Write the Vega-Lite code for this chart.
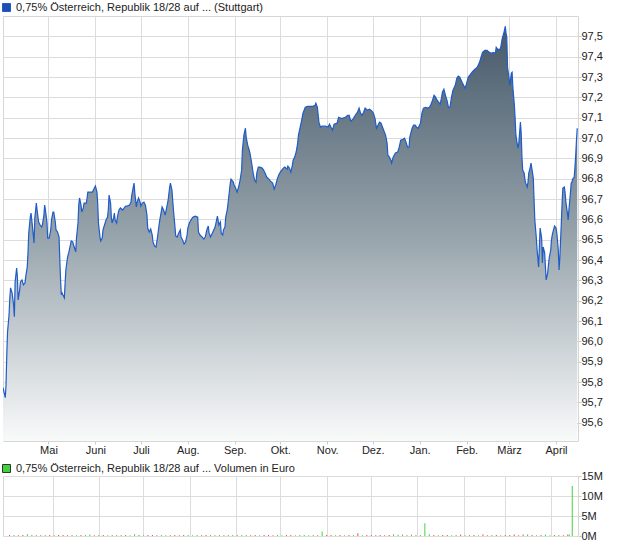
{
  "$schema": "https://vega.github.io/schema/vega-lite/v6.json",
  "padding": {"left": 1, "top": 2, "right": 0, "bottom": 0},
  "background": "white",
  "datasets": {
    "price": [
      {"d":"2025-04-01","p":95.772},{"d":"2025-04-02T12:00:00Z","p":95.723},{"d":"2025-04-03","p":95.787},{"d":"2025-04-03T12:00:00Z","p":95.934},
      {"d":"2025-04-04","p":96.047},{"d":"2025-04-05","p":96.130},{"d":"2025-04-05T12:00:00Z","p":96.214},{"d":"2025-04-06","p":96.263},
      {"d":"2025-04-07","p":96.238},{"d":"2025-04-08","p":96.179},{"d":"2025-04-08T12:00:00Z","p":96.121},{"d":"2025-04-09","p":96.292},
      {"d":"2025-04-10","p":96.361},{"d":"2025-04-10T12:00:00Z","p":96.317},{"d":"2025-04-11","p":96.204},{"d":"2025-04-12","p":96.253},
      {"d":"2025-04-12T12:00:00Z","p":96.292},{"d":"2025-04-13T12:00:00Z","p":96.302},{"d":"2025-04-14T12:00:00Z","p":96.278},{"d":"2025-04-15T12:00:00Z","p":96.287},
      {"d":"2025-04-16","p":96.317},{"d":"2025-04-17","p":96.366},{"d":"2025-04-17T12:00:00Z","p":96.435},{"d":"2025-04-18","p":96.533},
      {"d":"2025-04-19","p":96.611},{"d":"2025-04-19T12:00:00Z","p":96.631},{"d":"2025-04-20","p":96.597},{"d":"2025-04-21","p":96.523},
      {"d":"2025-04-21T12:00:00Z","p":96.484},{"d":"2025-04-22","p":96.607},{"d":"2025-04-23","p":96.680},{"d":"2025-04-23T12:00:00Z","p":96.646},
      {"d":"2025-04-24T12:00:00Z","p":96.587},{"d":"2025-04-25T12:00:00Z","p":96.572},{"d":"2025-04-26T12:00:00Z","p":96.562},{"d":"2025-04-27","p":96.572},
      {"d":"2025-04-28","p":96.621},{"d":"2025-04-28T12:00:00Z","p":96.670},{"d":"2025-04-29","p":96.646},{"d":"2025-04-30","p":96.587},
      {"d":"2025-04-30T12:00:00Z","p":96.508},{"d":"2025-05-01T12:00:00Z","p":96.508},{"d":"2025-05-02T12:00:00Z","p":96.548},{"d":"2025-05-03","p":96.597},
      {"d":"2025-05-04","p":96.636},{"d":"2025-05-04T12:00:00Z","p":96.636},{"d":"2025-05-05T12:00:00Z","p":96.587},{"d":"2025-05-06","p":96.548},
      {"d":"2025-05-07","p":96.538},{"d":"2025-05-08","p":96.513},{"d":"2025-05-08T12:00:00Z","p":96.400},{"d":"2025-05-09","p":96.302},
      {"d":"2025-05-09T12:00:00Z","p":96.229},{"d":"2025-05-10","p":96.238},{"d":"2025-05-10T12:00:00Z","p":96.229},{"d":"2025-05-11T12:00:00Z","p":96.214},
      {"d":"2025-05-12","p":96.287},{"d":"2025-05-12T12:00:00Z","p":96.351},{"d":"2025-05-13T12:00:00Z","p":96.410},{"d":"2025-05-14T12:00:00Z","p":96.440},
      {"d":"2025-05-15T12:00:00Z","p":96.474},{"d":"2025-05-16","p":96.494},{"d":"2025-05-17","p":96.489},{"d":"2025-05-18","p":96.464},
      {"d":"2025-05-19","p":96.440},{"d":"2025-05-19T12:00:00Z","p":96.508},{"d":"2025-05-20T12:00:00Z","p":96.582},{"d":"2025-05-21","p":96.670},
      {"d":"2025-05-21T12:00:00Z","p":96.705},{"d":"2025-05-22T12:00:00Z","p":96.670},{"d":"2025-05-23","p":96.636},{"d":"2025-05-24","p":96.656},
      {"d":"2025-05-24T12:00:00Z","p":96.680},{"d":"2025-05-26","p":96.680},{"d":"2025-05-26T12:00:00Z","p":96.705},{"d":"2025-05-27","p":96.734},
      {"d":"2025-05-28T12:00:00Z","p":96.734},{"d":"2025-05-30","p":96.734},{"d":"2025-05-31","p":96.749},{"d":"2025-06-01","p":96.764},
      {"d":"2025-06-02","p":96.734},{"d":"2025-06-02T12:00:00Z","p":96.680},{"d":"2025-06-03","p":96.582},{"d":"2025-06-04","p":96.513},
      {"d":"2025-06-04T12:00:00Z","p":96.494},{"d":"2025-06-05T12:00:00Z","p":96.508},{"d":"2025-06-06","p":96.548},{"d":"2025-06-07","p":96.572},
      {"d":"2025-06-08","p":96.597},{"d":"2025-06-09","p":96.611},{"d":"2025-06-09T12:00:00Z","p":96.646},{"d":"2025-06-10","p":96.719},
      {"d":"2025-06-11","p":96.680},{"d":"2025-06-11T12:00:00Z","p":96.611},{"d":"2025-06-12","p":96.582},{"d":"2025-06-13","p":96.607},
      {"d":"2025-06-13T12:00:00Z","p":96.631},{"d":"2025-06-14","p":96.597},{"d":"2025-06-15","p":96.582},{"d":"2025-06-15T12:00:00Z","p":96.611},
      {"d":"2025-06-16T12:00:00Z","p":96.646},{"d":"2025-06-17T12:00:00Z","p":96.656},{"d":"2025-06-19","p":96.646},{"d":"2025-06-20","p":96.656},
      {"d":"2025-06-21","p":96.665},{"d":"2025-06-22","p":96.665},{"d":"2025-06-23T12:00:00Z","p":96.670},{"d":"2025-06-24T12:00:00Z","p":96.685},
      {"d":"2025-06-25","p":96.719},{"d":"2025-06-26","p":96.759},{"d":"2025-06-26T12:00:00Z","p":96.778},{"d":"2025-06-27","p":96.729},
      {"d":"2025-06-28","p":96.661},{"d":"2025-06-28T12:00:00Z","p":96.685},{"d":"2025-06-29T12:00:00Z","p":96.705},{"d":"2025-06-30T12:00:00Z","p":96.685},
      {"d":"2025-07-01","p":96.665},{"d":"2025-07-02","p":96.680},{"d":"2025-07-03","p":96.685},{"d":"2025-07-04","p":96.670},
      {"d":"2025-07-05","p":96.621},{"d":"2025-07-05T12:00:00Z","p":96.557},{"d":"2025-07-06T12:00:00Z","p":96.538},{"d":"2025-07-07T12:00:00Z","p":96.553},
      {"d":"2025-07-08T12:00:00Z","p":96.523},{"d":"2025-07-09","p":96.489},{"d":"2025-07-10","p":96.469},{"d":"2025-07-11","p":96.464},
      {"d":"2025-07-12","p":96.513},{"d":"2025-07-13","p":96.572},{"d":"2025-07-13T12:00:00Z","p":96.597},{"d":"2025-07-15","p":96.661},
      {"d":"2025-07-16","p":96.646},{"d":"2025-07-17","p":96.621},{"d":"2025-07-18","p":96.656},{"d":"2025-07-19","p":96.695},
      {"d":"2025-07-20","p":96.759},{"d":"2025-07-20T12:00:00Z","p":96.778},{"d":"2025-07-21T12:00:00Z","p":96.744},{"d":"2025-07-22T12:00:00Z","p":96.646},
      {"d":"2025-07-23T12:00:00Z","p":96.562},{"d":"2025-07-24","p":96.518},{"d":"2025-07-25","p":96.513},{"d":"2025-07-26","p":96.533},
      {"d":"2025-07-27","p":96.548},{"d":"2025-07-27T12:00:00Z","p":96.513},{"d":"2025-07-28T12:00:00Z","p":96.499},{"d":"2025-07-29T12:00:00Z","p":96.479},
      {"d":"2025-07-30T12:00:00Z","p":96.489},{"d":"2025-07-31T12:00:00Z","p":96.523},{"d":"2025-08-01","p":96.557},{"d":"2025-08-02","p":96.582},
      {"d":"2025-08-03T12:00:00Z","p":96.602},{"d":"2025-08-04T12:00:00Z","p":96.611},{"d":"2025-08-06","p":96.616},{"d":"2025-08-07T12:00:00Z","p":96.611},
      {"d":"2025-08-08","p":96.538},{"d":"2025-08-09","p":96.523},{"d":"2025-08-10T12:00:00Z","p":96.513},{"d":"2025-08-11T12:00:00Z","p":96.503},
      {"d":"2025-08-12T12:00:00Z","p":96.513},{"d":"2025-08-13T12:00:00Z","p":96.548},{"d":"2025-08-14T12:00:00Z","p":96.567},{"d":"2025-08-15","p":96.533},
      {"d":"2025-08-16","p":96.513},{"d":"2025-08-17T12:00:00Z","p":96.538},{"d":"2025-08-19","p":96.562},{"d":"2025-08-20","p":96.597},
      {"d":"2025-08-20T12:00:00Z","p":96.616},{"d":"2025-08-21T12:00:00Z","p":96.572},{"d":"2025-08-22T12:00:00Z","p":96.587},{"d":"2025-08-23","p":96.533},
      {"d":"2025-08-24","p":96.523},{"d":"2025-08-24T12:00:00Z","p":96.548},{"d":"2025-08-25T12:00:00Z","p":96.562},{"d":"2025-08-26","p":96.611},
      {"d":"2025-08-27","p":96.646},{"d":"2025-08-28","p":96.710},{"d":"2025-08-29","p":96.778},{"d":"2025-08-29T12:00:00Z","p":96.798},
      {"d":"2025-08-31","p":96.783},{"d":"2025-08-31T12:00:00Z","p":96.769},{"d":"2025-09-01T12:00:00Z","p":96.754},{"d":"2025-09-02T12:00:00Z","p":96.734},
      {"d":"2025-09-03T12:00:00Z","p":96.759},{"d":"2025-09-04T12:00:00Z","p":96.793},{"d":"2025-09-05T12:00:00Z","p":96.842},{"d":"2025-09-06","p":96.940},
      {"d":"2025-09-07","p":97.014},{"d":"2025-09-08","p":97.048},{"d":"2025-09-08T12:00:00Z","p":97.004},{"d":"2025-09-09T12:00:00Z","p":96.965},
      {"d":"2025-09-10T12:00:00Z","p":96.940},{"d":"2025-09-11","p":96.926},{"d":"2025-09-12","p":96.881},{"d":"2025-09-13","p":96.832},
      {"d":"2025-09-14","p":96.793},{"d":"2025-09-15","p":96.783},{"d":"2025-09-15T12:00:00Z","p":96.827},{"d":"2025-09-16T12:00:00Z","p":96.857},
      {"d":"2025-09-17T12:00:00Z","p":96.857},{"d":"2025-09-19","p":96.852},{"d":"2025-09-20","p":96.842},{"d":"2025-09-21","p":96.827},
      {"d":"2025-09-22","p":96.808},{"d":"2025-09-23T12:00:00Z","p":96.798},{"d":"2025-09-24T12:00:00Z","p":96.788},{"d":"2025-09-26","p":96.778},
      {"d":"2025-09-27","p":96.749},{"d":"2025-09-28","p":96.769},{"d":"2025-09-29","p":96.798},{"d":"2025-09-30","p":96.818},
      {"d":"2025-10-01","p":96.832},{"d":"2025-10-02","p":96.842},{"d":"2025-10-03","p":96.852},{"d":"2025-10-04","p":96.857},
      {"d":"2025-10-05T12:00:00Z","p":96.847},{"d":"2025-10-06","p":96.862},{"d":"2025-10-07","p":96.852},{"d":"2025-10-08","p":96.832},
      {"d":"2025-10-09","p":96.867},{"d":"2025-10-09T12:00:00Z","p":96.891},{"d":"2025-10-10T12:00:00Z","p":96.906},{"d":"2025-10-11T12:00:00Z","p":96.931},
      {"d":"2025-10-12T12:00:00Z","p":96.975},{"d":"2025-10-13","p":97.014},{"d":"2025-10-14","p":97.048},{"d":"2025-10-15","p":97.083},
      {"d":"2025-10-16","p":97.122},{"d":"2025-10-17T12:00:00Z","p":97.151},{"d":"2025-10-19","p":97.156},{"d":"2025-10-20T12:00:00Z","p":97.156},
      {"d":"2025-10-22T12:00:00Z","p":97.156},{"d":"2025-10-24","p":97.161},{"d":"2025-10-24T12:00:00Z","p":97.171},{"d":"2025-10-25T12:00:00Z","p":97.151},
      {"d":"2025-10-26T12:00:00Z","p":97.078},{"d":"2025-10-27T12:00:00Z","p":97.053},{"d":"2025-10-28T12:00:00Z","p":97.058},{"d":"2025-10-30","p":97.058},
      {"d":"2025-10-31","p":97.058},{"d":"2025-11-01T12:00:00Z","p":97.053},{"d":"2025-11-02T12:00:00Z","p":97.068},{"d":"2025-11-03T12:00:00Z","p":97.053},
      {"d":"2025-11-04T12:00:00Z","p":97.039},{"d":"2025-11-05T12:00:00Z","p":97.068},{"d":"2025-11-07T12:00:00Z","p":97.073},{"d":"2025-11-08T12:00:00Z","p":97.102},
      {"d":"2025-11-10","p":97.097},{"d":"2025-11-11","p":97.097},{"d":"2025-11-13","p":97.102},{"d":"2025-11-14T12:00:00Z","p":97.112},
      {"d":"2025-11-15T12:00:00Z","p":97.112},{"d":"2025-11-16T12:00:00Z","p":97.083},{"d":"2025-11-18","p":97.093},{"d":"2025-11-19T12:00:00Z","p":97.112},
      {"d":"2025-11-21","p":97.127},{"d":"2025-11-22","p":97.147},{"d":"2025-11-23","p":97.122},{"d":"2025-11-24","p":97.112},
      {"d":"2025-11-25","p":97.127},{"d":"2025-11-26","p":97.147},{"d":"2025-11-27T12:00:00Z","p":97.137},{"d":"2025-11-29","p":97.142},
      {"d":"2025-11-30T12:00:00Z","p":97.132},{"d":"2025-12-01T12:00:00Z","p":97.122},{"d":"2025-12-02T12:00:00Z","p":97.097},{"d":"2025-12-03T12:00:00Z","p":97.048},
      {"d":"2025-12-04T12:00:00Z","p":97.063},{"d":"2025-12-05T12:00:00Z","p":97.078},{"d":"2025-12-06T12:00:00Z","p":97.073},{"d":"2025-12-07T12:00:00Z","p":97.053},
      {"d":"2025-12-08T12:00:00Z","p":97.034},{"d":"2025-12-09T12:00:00Z","p":97.014},{"d":"2025-12-10T12:00:00Z","p":96.975},{"d":"2025-12-11","p":96.916},
      {"d":"2025-12-12","p":96.906},{"d":"2025-12-13","p":96.891},{"d":"2025-12-13T12:00:00Z","p":96.877},{"d":"2025-12-14T12:00:00Z","p":96.906},
      {"d":"2025-12-16","p":96.926},{"d":"2025-12-17T12:00:00Z","p":96.931},{"d":"2025-12-18T12:00:00Z","p":96.955},{"d":"2025-12-19T12:00:00Z","p":96.989},
      {"d":"2025-12-21","p":96.994},{"d":"2025-12-22","p":96.999},{"d":"2025-12-23","p":96.980},{"d":"2025-12-24","p":96.955},
      {"d":"2025-12-25","p":96.955},{"d":"2025-12-25T12:00:00Z","p":97.004},{"d":"2025-12-27","p":97.048},{"d":"2025-12-28","p":97.063},
      {"d":"2025-12-29","p":97.063},{"d":"2025-12-30","p":97.053},{"d":"2025-12-31","p":97.048},{"d":"2026-01-01T12:00:00Z","p":97.073},
      {"d":"2026-01-02T12:00:00Z","p":97.122},{"d":"2026-01-03T12:00:00Z","p":97.147},{"d":"2026-01-05","p":97.151},{"d":"2026-01-06","p":97.147},
      {"d":"2026-01-07T12:00:00Z","p":97.151},{"d":"2026-01-08T12:00:00Z","p":97.166},{"d":"2026-01-09T12:00:00Z","p":97.186},{"d":"2026-01-10T12:00:00Z","p":97.210},
      {"d":"2026-01-11T12:00:00Z","p":97.201},{"d":"2026-01-12T12:00:00Z","p":97.186},{"d":"2026-01-13T12:00:00Z","p":97.176},{"d":"2026-01-14T12:00:00Z","p":97.166},
      {"d":"2026-01-15T12:00:00Z","p":97.201},{"d":"2026-01-16","p":97.225},{"d":"2026-01-17","p":97.240},{"d":"2026-01-18","p":97.210},
      {"d":"2026-01-19","p":97.186},{"d":"2026-01-20","p":97.151},{"d":"2026-01-21","p":97.151},{"d":"2026-01-22","p":97.201},
      {"d":"2026-01-23","p":97.235},{"d":"2026-01-24T12:00:00Z","p":97.259},{"d":"2026-01-25T12:00:00Z","p":97.294},{"d":"2026-01-26T12:00:00Z","p":97.304},
      {"d":"2026-01-27T12:00:00Z","p":97.299},{"d":"2026-01-29","p":97.274},{"d":"2026-01-30","p":97.259},{"d":"2026-01-31","p":97.245},
      {"d":"2026-02-01","p":97.269},{"d":"2026-02-02","p":97.299},{"d":"2026-02-03T12:00:00Z","p":97.313},{"d":"2026-02-05","p":97.328},
      {"d":"2026-02-06T12:00:00Z","p":97.338},{"d":"2026-02-08","p":97.348},{"d":"2026-02-09T12:00:00Z","p":97.372},{"d":"2026-02-10T12:00:00Z","p":97.397},
      {"d":"2026-02-11T12:00:00Z","p":97.421},{"d":"2026-02-13","p":97.431},{"d":"2026-02-14T12:00:00Z","p":97.431},{"d":"2026-02-16","p":97.421},
      {"d":"2026-02-17T12:00:00Z","p":97.417},{"d":"2026-02-18T12:00:00Z","p":97.421},{"d":"2026-02-20","p":97.417},{"d":"2026-02-20T12:00:00Z","p":97.446},
      {"d":"2026-02-21T12:00:00Z","p":97.436},{"d":"2026-02-23","p":97.436},{"d":"2026-02-23T12:00:00Z","p":97.446},{"d":"2026-02-24T12:00:00Z","p":97.490},
      {"d":"2026-02-25T12:00:00Z","p":97.515},{"d":"2026-02-26T12:00:00Z","p":97.549},{"d":"2026-02-27","p":97.515},{"d":"2026-02-27T12:00:00Z","p":97.495},
      {"d":"2026-02-28","p":97.348},{"d":"2026-03-01","p":97.294},{"d":"2026-03-01T12:00:00Z","p":97.259},{"d":"2026-03-02T12:00:00Z","p":97.318},
      {"d":"2026-03-03","p":97.323},{"d":"2026-03-03T12:00:00Z","p":97.250},{"d":"2026-03-04T12:00:00Z","p":97.161},{"d":"2026-03-05","p":97.097},
      {"d":"2026-03-05T12:00:00Z","p":97.014},{"d":"2026-03-06T12:00:00Z","p":96.965},{"d":"2026-03-07","p":96.950},{"d":"2026-03-07T12:00:00Z","p":96.980},
      {"d":"2026-03-08T12:00:00Z","p":97.078},{"d":"2026-03-09","p":97.024},{"d":"2026-03-09T12:00:00Z","p":96.906},{"d":"2026-03-10","p":96.842},
      {"d":"2026-03-11","p":96.827},{"d":"2026-03-11T12:00:00Z","p":96.793},{"d":"2026-03-12","p":96.778},{"d":"2026-03-13","p":96.759},
      {"d":"2026-03-13T12:00:00Z","p":96.783},{"d":"2026-03-14","p":96.827},{"d":"2026-03-15","p":96.857},{"d":"2026-03-15T12:00:00Z","p":96.877},
      {"d":"2026-03-16","p":96.852},{"d":"2026-03-17","p":96.803},{"d":"2026-03-17T12:00:00Z","p":96.695},{"d":"2026-03-18","p":96.597},
      {"d":"2026-03-19","p":96.508},{"d":"2026-03-19T12:00:00Z","p":96.449},{"d":"2026-03-20","p":96.410},{"d":"2026-03-20T12:00:00Z","p":96.366},
      {"d":"2026-03-21","p":96.464},{"d":"2026-03-21T12:00:00Z","p":96.557},{"d":"2026-03-22T12:00:00Z","p":96.508},{"d":"2026-03-23","p":96.386},
      {"d":"2026-03-23T12:00:00Z","p":96.464},{"d":"2026-03-24T12:00:00Z","p":96.435},{"d":"2026-03-25","p":96.366},{"d":"2026-03-25T12:00:00Z","p":96.302},
      {"d":"2026-03-26T12:00:00Z","p":96.337},{"d":"2026-03-27","p":96.376},{"d":"2026-03-27T12:00:00Z","p":96.410},{"d":"2026-03-28T12:00:00Z","p":96.449},
      {"d":"2026-03-29","p":96.499},{"d":"2026-03-29T12:00:00Z","p":96.523},{"d":"2026-03-30","p":96.538},{"d":"2026-03-31","p":96.567},
      {"d":"2026-04-01","p":96.557},{"d":"2026-04-01T12:00:00Z","p":96.533},{"d":"2026-04-02T12:00:00Z","p":96.449},{"d":"2026-04-03","p":96.351},
      {"d":"2026-04-03T12:00:00Z","p":96.410},{"d":"2026-04-04T12:00:00Z","p":96.582},{"d":"2026-04-05","p":96.680},{"d":"2026-04-05T12:00:00Z","p":96.754},
      {"d":"2026-04-06T12:00:00Z","p":96.759},{"d":"2026-04-07","p":96.729},{"d":"2026-04-07T12:00:00Z","p":96.685},{"d":"2026-04-08T12:00:00Z","p":96.631},
      {"d":"2026-04-09","p":96.597},{"d":"2026-04-09T12:00:00Z","p":96.646},{"d":"2026-04-10T12:00:00Z","p":96.729},{"d":"2026-04-11","p":96.778},
      {"d":"2026-04-11T12:00:00Z","p":96.783},{"d":"2026-04-12","p":96.798},{"d":"2026-04-13","p":96.808},{"d":"2026-04-13T12:00:00Z","p":96.857},
      {"d":"2026-04-14","p":96.916},{"d":"2026-04-14T12:00:00Z","p":96.989},{"d":"2026-04-15","p":97.048}
    ],
    "volume": [
      {"d":"2025-04-02","v":250000,"c":"down"},{"d":"2025-04-05","v":220000,"c":"up"},{"d":"2025-04-08","v":200000,"c":"down"},{"d":"2025-04-11","v":250000,"c":"down"},
      {"d":"2025-04-14","v":450000,"c":"up"},{"d":"2025-04-17","v":220000,"c":"up"},{"d":"2025-04-20","v":200000,"c":"down"},{"d":"2025-04-23","v":250000,"c":"up"},
      {"d":"2025-04-26","v":200000,"c":"down"},{"d":"2025-04-29","v":230000,"c":"down"},{"d":"2025-05-02","v":200000,"c":"up"},{"d":"2025-05-05","v":250000,"c":"down"},
      {"d":"2025-05-08","v":220000,"c":"down"},{"d":"2025-05-11","v":200000,"c":"down"},{"d":"2025-05-14","v":240000,"c":"up"},{"d":"2025-05-17","v":200000,"c":"up"},
      {"d":"2025-05-20","v":230000,"c":"down"},{"d":"2025-05-23","v":250000,"c":"up"},{"d":"2025-05-26","v":400000,"c":"up"},{"d":"2025-05-29","v":200000,"c":"down"},
      {"d":"2025-06-01","v":220000,"c":"up"},{"d":"2025-06-04","v":250000,"c":"down"},{"d":"2025-06-07","v":200000,"c":"up"},{"d":"2025-06-10","v":230000,"c":"up"},
      {"d":"2025-06-13","v":200000,"c":"down"},{"d":"2025-06-16","v":250000,"c":"up"},{"d":"2025-06-19","v":220000,"c":"down"},{"d":"2025-06-22","v":200000,"c":"up"},
      {"d":"2025-06-25","v":450000,"c":"up"},{"d":"2025-06-28","v":230000,"c":"down"},{"d":"2025-07-01","v":200000,"c":"up"},{"d":"2025-07-04","v":250000,"c":"down"},
      {"d":"2025-07-07","v":220000,"c":"down"},{"d":"2025-07-10","v":200000,"c":"down"},{"d":"2025-07-13","v":240000,"c":"up"},{"d":"2025-07-16","v":200000,"c":"up"},
      {"d":"2025-07-19","v":230000,"c":"up"},{"d":"2025-07-22","v":250000,"c":"down"},{"d":"2025-07-25","v":200000,"c":"down"},{"d":"2025-07-28","v":220000,"c":"down"},
      {"d":"2025-07-31","v":250000,"c":"up"},{"d":"2025-08-03","v":200000,"c":"up"},{"d":"2025-08-06","v":230000,"c":"up"},{"d":"2025-08-09","v":200000,"c":"down"},
      {"d":"2025-08-12","v":250000,"c":"down"},{"d":"2025-08-15","v":220000,"c":"up"},{"d":"2025-08-18","v":200000,"c":"down"},{"d":"2025-08-21","v":240000,"c":"up"},
      {"d":"2025-08-24","v":200000,"c":"down"},{"d":"2025-08-27","v":230000,"c":"up"},{"d":"2025-08-30","v":250000,"c":"up"},{"d":"2025-09-02","v":200000,"c":"down"},
      {"d":"2025-09-05","v":220000,"c":"up"},{"d":"2025-09-08","v":250000,"c":"up"},{"d":"2025-09-11","v":200000,"c":"down"},{"d":"2025-09-14","v":230000,"c":"down"},
      {"d":"2025-09-17","v":200000,"c":"up"},{"d":"2025-09-20","v":250000,"c":"down"},{"d":"2025-09-23","v":220000,"c":"down"},{"d":"2025-09-26","v":200000,"c":"down"},
      {"d":"2025-09-29","v":240000,"c":"up"},{"d":"2025-10-02","v":200000,"c":"up"},{"d":"2025-10-05","v":230000,"c":"down"},{"d":"2025-10-08","v":250000,"c":"down"},
      {"d":"2025-10-11","v":200000,"c":"up"},{"d":"2025-10-14","v":220000,"c":"up"},{"d":"2025-10-17","v":250000,"c":"up"},{"d":"2025-10-20","v":200000,"c":"up"},
      {"d":"2025-10-23","v":230000,"c":"up"},{"d":"2025-10-26","v":200000,"c":"down"},{"d":"2025-10-29","v":1100000,"c":"up"},{"d":"2025-11-01","v":250000,"c":"down"},
      {"d":"2025-11-04","v":220000,"c":"down"},{"d":"2025-11-07","v":200000,"c":"up"},{"d":"2025-11-10","v":240000,"c":"down"},{"d":"2025-11-13","v":200000,"c":"up"},
      {"d":"2025-11-16","v":230000,"c":"down"},{"d":"2025-11-19","v":250000,"c":"up"},{"d":"2025-11-22","v":700000,"c":"down"},{"d":"2025-11-25","v":200000,"c":"up"},
      {"d":"2025-11-28","v":220000,"c":"down"},{"d":"2025-12-01","v":250000,"c":"down"},{"d":"2025-12-04","v":200000,"c":"down"},{"d":"2025-12-07","v":230000,"c":"down"},
      {"d":"2025-12-10","v":200000,"c":"down"},{"d":"2025-12-13","v":250000,"c":"down"},{"d":"2025-12-16","v":420000,"c":"up"},{"d":"2025-12-19","v":300000,"c":"up"},
      {"d":"2025-12-22","v":400000,"c":"up"},{"d":"2025-12-25","v":200000,"c":"down"},{"d":"2025-12-28","v":350000,"c":"up"},{"d":"2025-12-31","v":200000,"c":"down"},
      {"d":"2026-01-03","v":250000,"c":"up"},{"d":"2026-01-06","v":3200000,"c":"up"},{"d":"2026-01-09","v":450000,"c":"up"},{"d":"2026-01-12","v":230000,"c":"down"},
      {"d":"2026-01-15","v":200000,"c":"up"},{"d":"2026-01-18","v":250000,"c":"down"},{"d":"2026-01-21","v":220000,"c":"down"},{"d":"2026-01-24","v":200000,"c":"up"},
      {"d":"2026-01-27","v":240000,"c":"up"},{"d":"2026-01-30","v":350000,"c":"down"},{"d":"2026-02-02","v":200000,"c":"up"},{"d":"2026-02-05","v":230000,"c":"up"},
      {"d":"2026-02-08","v":250000,"c":"down"},{"d":"2026-02-11","v":200000,"c":"up"},{"d":"2026-02-14","v":350000,"c":"down"},{"d":"2026-02-17","v":200000,"c":"down"},
      {"d":"2026-02-20","v":250000,"c":"up"},{"d":"2026-02-23","v":220000,"c":"down"},{"d":"2026-02-26","v":200000,"c":"up"},{"d":"2026-03-01","v":250000,"c":"down"},
      {"d":"2026-03-04","v":220000,"c":"down"},{"d":"2026-03-07","v":350000,"c":"down"},{"d":"2026-03-10","v":200000,"c":"down"},{"d":"2026-03-13","v":350000,"c":"down"},
      {"d":"2026-03-16","v":400000,"c":"up"},{"d":"2026-03-19","v":250000,"c":"down"},{"d":"2026-03-22","v":200000,"c":"up"},{"d":"2026-03-25","v":220000,"c":"down"},
      {"d":"2026-03-28","v":400000,"c":"up"},{"d":"2026-03-31","v":200000,"c":"up"},{"d":"2026-04-03","v":230000,"c":"down"},{"d":"2026-04-06","v":250000,"c":"up"},
      {"d":"2026-04-09","v":200000,"c":"down"},{"d":"2026-04-12","v":400000,"c":"down"},{"d":"2026-04-13","v":350000,"c":"up"},{"d":"2026-04-15","v":12500000,"c":"up"}
    ]
  },
  "vconcat": [
    {
      "width": 575,
      "height": 425,
      "data": {"name": "price"},
      "encoding": {
        "x": {
          "field": "d", "type": "temporal",
          "scale": {"type": "utc", "domain": [{"year": 2025, "month": 4, "date": 1, "utc": true}, {"year": 2026, "month": 4, "date": 15, "hours": 12, "utc": true}], "nice": false},
          "axis": {
            "title": null,
            "values": [
              {"year": 2025, "month": 5, "date": 1, "utc": true}, {"year": 2025, "month": 6, "date": 1, "utc": true},
              {"year": 2025, "month": 7, "date": 1, "utc": true}, {"year": 2025, "month": 8, "date": 1, "utc": true},
              {"year": 2025, "month": 9, "date": 1, "utc": true}, {"year": 2025, "month": 10, "date": 1, "utc": true},
              {"year": 2025, "month": 11, "date": 1, "utc": true}, {"year": 2025, "month": 12, "date": 1, "utc": true},
              {"year": 2026, "month": 1, "date": 1, "utc": true}, {"year": 2026, "month": 2, "date": 1, "utc": true},
              {"year": 2026, "month": 3, "date": 1, "utc": true}, {"year": 2026, "month": 4, "date": 1, "utc": true}
            ],
            "labelExpr": "['Jan.','Feb.','März','April','Mai','Juni','Juli','Aug.','Sep.','Okt.','Nov.','Dez.'][utcmonth(datum.value)]",
            "grid": true, "domain": false, "tickSize": 3, "labelPadding": 0, "labelFlush": false, "labelOverlap": false
          }
        },
        "y": {
          "field": "p", "type": "quantitative",
          "scale": {"domain": [95.51, 97.6], "zero": false, "nice": false},
          "axis": {
            "title": null, "orient": "right",
            "values": [95.6, 95.7, 95.8, 95.9, 96.0, 96.1, 96.2, 96.3, 96.4, 96.5, 96.6, 96.7, 96.8, 96.9, 97.0, 97.1, 97.2, 97.3, 97.4, 97.5],
            "labelExpr": "replace(format(datum.value, '.1f'), '.', ',')",
            "grid": true, "domain": false, "tickSize": 3, "labelPadding": 0
          }
        }
      },
      "layer": [
        {
          "mark": {
            "type": "area", "clip": true,
            "color": {"gradient": "linear", "x1": 0, "y1": 0, "x2": 0, "y2": 1,
              "stops": [{"offset": 0, "color": "#46596a"}, {"offset": 0.5, "color": "#96a3ab"}, {"offset": 1, "color": "#f9fafa"}]}
          },
          "encoding": {"y2": {"datum": 95.51}}
        },
        {
          "mark": {"type": "line", "clip": true, "strokeWidth": 1.2},
          "encoding": {
            "stroke": {
              "datum": "0,75% Österreich, Republik 18/28 auf ... (Stuttgart)",
              "scale": {"range": ["#1f5cc8"]},
              "legend": {
                "orient": "none", "legendX": -2, "legendY": -14, "title": null,
                "symbolType": "square", "symbolSize": 64, "symbolFillColor": "#1d4fae", "symbolStrokeWidth": 1,
                "labelFont": "Liberation Sans", "labelFontSize": 11, "labelColor": "#222222", "labelLimit": 0, "labelOffset": 4, "padding": 0
              }
            }
          }
        }
      ]
    },
    {
      "width": 575,
      "height": 60,
      "data": {"name": "volume"},
      "mark": {"type": "bar", "size": 1, "clip": true},
      "encoding": {
        "x": {
          "field": "d", "type": "temporal",
          "scale": {"type": "utc", "domain": [{"year": 2025, "month": 4, "date": 1, "utc": true}, {"year": 2026, "month": 4, "date": 15, "hours": 12, "utc": true}], "nice": false},
          "axis": {
            "title": null, "labels": false, "ticks": false, "domain": false, "grid": true,
            "values": [
              {"year": 2025, "month": 5, "date": 1, "utc": true}, {"year": 2025, "month": 6, "date": 1, "utc": true},
              {"year": 2025, "month": 7, "date": 1, "utc": true}, {"year": 2025, "month": 8, "date": 1, "utc": true},
              {"year": 2025, "month": 9, "date": 1, "utc": true}, {"year": 2025, "month": 10, "date": 1, "utc": true},
              {"year": 2025, "month": 11, "date": 1, "utc": true}, {"year": 2025, "month": 12, "date": 1, "utc": true},
              {"year": 2026, "month": 1, "date": 1, "utc": true}, {"year": 2026, "month": 2, "date": 1, "utc": true},
              {"year": 2026, "month": 3, "date": 1, "utc": true}, {"year": 2026, "month": 4, "date": 1, "utc": true}
            ]
          }
        },
        "y": {
          "field": "v", "type": "quantitative",
          "scale": {"domain": [0, 15000000], "nice": false},
          "axis": {
            "title": null, "orient": "right", "values": [0, 5000000, 10000000, 15000000],
            "labelExpr": "(datum.value / 1000000) + 'M'",
            "grid": true, "domain": false, "tickSize": 3, "labelPadding": 0
          }
        },
        "color": {
          "field": "c", "type": "nominal",
          "scale": {"domain": ["up", "down"], "range": ["#3fd23f", "#ee4a4a"]},
          "legend": {
            "orient": "none", "legendX": -2, "legendY": 447, "title": null, "values": ["up"],
            "labelExpr": "'0,75% Österreich, Republik 18/28 auf ... Volumen in Euro'",
            "symbolType": "square", "symbolSize": 64, "symbolStrokeColor": "#333333", "symbolStrokeWidth": 1,
            "labelFont": "Liberation Sans", "labelFontSize": 11, "labelColor": "#222222", "labelLimit": 0, "labelOffset": 4, "padding": 0
          }
        }
      }
    }
  ],
  "spacing": 13,
  "config": {
    "view": {"stroke": "#d6d6d6", "strokeWidth": 1},
    "axis": {"labelFont": "Liberation Sans", "labelFontSize": 11, "labelColor": "#222222", "gridColor": "#dcdcdc", "gridWidth": 1, "tickColor": "#cccccc", "domainColor": "#d6d6d6"}
  }
}
